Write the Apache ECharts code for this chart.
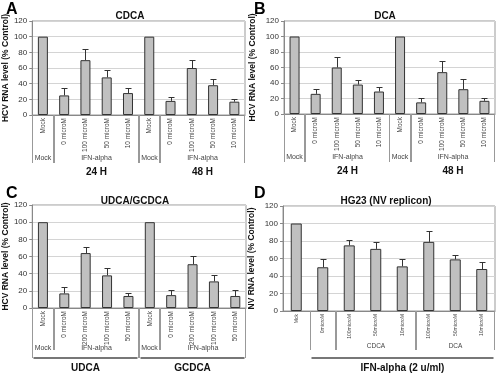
<!DOCTYPE html>
<html>
<head>
<meta charset="utf-8">
<script src="https://cdn.jsdelivr.net/npm/echarts@6/dist/echarts.min.js"></script>
<style>
html, body { margin: 0; padding: 0; background: #fff; }
#main { width: 498px; height: 376px; }
</style>
</head>
<body>
<div id="main"></div>
<script>
// categories
var catsAB = ['Mock', '0 microM', '100 microM', '50 microM', '10 microM', 'Mock', '0 microM', '100 microM', '50 microM', '10 microM'];
var catsC = ['Mock', '0 microM', '200 microM', '100 microM', '50 microM', 'Mock', '0 microM', '200 microM', '100 microM', '50 microM'];
var catsD = ['Mck', '0microM', '100microM', '50microM', '10microM', '100microM', '50microM', '10microM'];

// values (% control) and upper error
var valA = [100, 25, 70, 48, 28, 100, 18, 60, 38, 17];
var errA = [0, 9, 14, 10, 7, 0, 5, 10, 8, 4];
var valB = [100, 26, 60, 38, 29, 100, 15, 54, 32, 17];
var errB = [0, 6, 14, 6, 6, 0, 6, 14, 13, 4];
var valC = [100, 17, 64, 38, 14, 100, 15, 51, 31, 14];
var errC = [0, 8, 7, 9, 3, 0, 6, 10, 7, 7];
var valD = [100, 50, 75, 71, 51, 79, 59, 48];
var errD = [0, 9, 6, 8, 9, 13, 5, 8];

// group rows under the axes: [first cat, last cat, label]
var treatAB = [[0, 0, 'Mock'], [1, 4, 'IFN-alpha'], [5, 5, 'Mock'], [6, 9, 'IFN-alpha']];
var timeAB = [[1, 4, '24 H'], [6, 9, '48 H']];
var acidC = [[0, 4, 'UDCA'], [5, 9, 'GCDCA']];
var acidD = [[1, 1, ''], [2, 4, 'CDCA'], [5, 7, 'DCA']];
var ifnD = [[1, 7, 'IFN-alpha (2 u/ml)']];

var FONT = 'Liberation Sans, Arial, sans-serif';

function spanRender(spans, o) {
  return function (params, api) {
    var sp = spans[params.dataIndex];
    var bw = api.size([1, 0])[0];
    var a = api.coord([sp[0], 0]), b = api.coord([sp[1], 0]);
    var x0 = Math.round(a[0] - bw / 2) + 0.5, x1 = Math.round(b[0] + bw / 2) - 0.5, y0 = a[1];
    var kids = [];
    if (o.line) {
      kids.push({ type: 'line', shape: { x1: x0, y1: y0, x2: x0, y2: y0 + o.line }, style: { stroke: '#999', lineWidth: 1 } });
      kids.push({ type: 'line', shape: { x1: x1, y1: y0, x2: x1, y2: y0 + o.line }, style: { stroke: '#999', lineWidth: 1 } });
    }
    if (o.bar) {
      kids.push({ type: 'line', shape: { x1: x0 + 1, y1: y0 + o.bar, x2: x1 - 1, y2: y0 + o.bar }, style: { stroke: '#777', lineWidth: 2 } });
    }
    if (sp[2]) {
      kids.push({ type: 'text', style: { text: sp[2], x: (x0 + x1) / 2, y: y0 + o.dy, align: 'center', verticalAlign: 'middle',
        font: (o.bold ? 'bold ' : '') + o.size + 'px ' + FONT, fill: o.bold ? '#111' : '#444' } });
    }
    return { type: 'group', children: kids };
  };
}

function errRender(params, api) {
  var e = api.value(2);
  if (!e) return null;
  var base = api.coord([api.value(0), api.value(1)]);
  var top = api.coord([api.value(0), api.value(1) + e]);
  var x = Math.round(base[0]) + 0.5, yt = Math.round(top[1]) + 0.5;
  return { type: 'group', children: [
    { type: 'line', shape: { x1: x, y1: base[1], x2: x, y2: yt }, style: { stroke: '#333', lineWidth: 1 } },
    { type: 'line', shape: { x1: x - 3, y1: yt, x2: x + 3, y2: yt }, style: { stroke: '#333', lineWidth: 1 } }
  ] };
}

var panels = [
  { grid: { left: 29, top: 21, width: 216, height: 94 }, cats: catsAB, vals: valA, errs: errA, name: 'HCV RNA level (% Control)', gap: 22,
    tick: 38, lab: 6.5, barW: 10,
    rows: [[treatAB, { line: 48, dy: 43, size: 7 }], [timeAB, { dy: 57, size: 10, bold: true }]] },
  { grid: { left: 284, top: 21, width: 211, height: 93 }, cats: catsAB, vals: valB, errs: errB, name: 'HCV RNA level (% Control)', gap: 27,
    tick: 38, lab: 6.5, barW: 10,
    rows: [[treatAB, { line: 48, dy: 43, size: 7 }], [timeAB, { dy: 57, size: 10, bold: true }]] },
  { grid: { left: 29, top: 205, width: 217, height: 103 }, cats: catsC, vals: valC, errs: errC, name: 'HCV RNA level (% Control)', gap: 22,
    tick: 34, lab: 6.5, barW: 10,
    rows: [[treatAB, { line: 42, dy: 40, size: 7 }], [acidC, { line: 50, bar: 50, dy: 60, size: 10, bold: true }]] },
  { grid: { left: 283, top: 206, width: 212, height: 105 }, cats: catsD, vals: valD, errs: errD, name: 'NV RNA level (% Control)', gap: 27,
    tick: 29, lab: 5, barW: 11,
    rows: [[acidD, { line: 39, dy: 35, size: 6.5 }], [ifnD, { bar: 47, dy: 57, size: 10, bold: true }]] }
];

var option = {
  animation: false,
  backgroundColor: '#fff',
  textStyle: { fontFamily: FONT },
  title: [
    { text: 'A', left: 1, top: -3, textStyle: { fontSize: 16, fontWeight: 'bold', color: '#000' } },
    { text: 'CDCA', left: 125, top: 6, textAlign: 'center', textStyle: { fontSize: 10, fontWeight: 'bold', color: '#111' } },
    { text: 'B', left: 249, top: -3, textStyle: { fontSize: 16, fontWeight: 'bold', color: '#000' } },
    { text: 'DCA', left: 380, top: 6, textAlign: 'center', textStyle: { fontSize: 10, fontWeight: 'bold', color: '#111' } },
    { text: 'C', left: 1, top: 181, textStyle: { fontSize: 16, fontWeight: 'bold', color: '#000' } },
    { text: 'UDCA/GCDCA', left: 130, top: 191, textAlign: 'center', textStyle: { fontSize: 10, fontWeight: 'bold', color: '#111' } },
    { text: 'D', left: 249, top: 181, textStyle: { fontSize: 16, fontWeight: 'bold', color: '#000' } },
    { text: 'HG23 (NV replicon)', left: 381, top: 191, textAlign: 'center', textStyle: { fontSize: 10, fontWeight: 'bold', color: '#111' } }
  ],
  grid: [], xAxis: [], yAxis: [], series: []
};

panels.forEach(function (p, k) {
  option.grid.push(Object.assign({ show: true, borderColor: '#999', borderWidth: 1, containLabel: false }, p.grid));
  option.xAxis.push({
    type: 'category', gridIndex: k, data: p.cats, boundaryGap: true,
    axisLine: { lineStyle: { color: '#888' } },
    axisTick: { length: p.tick, lineStyle: { color: '#aaa' } },
    axisLabel: { rotate: 90, margin: 3, fontSize: p.lab, color: '#444', interval: 0 }
  });
  option.yAxis.push({
    type: 'value', gridIndex: k, min: 0, max: 120, interval: 20,
    name: p.name, nameLocation: 'middle', nameGap: p.gap,
    nameTextStyle: { fontSize: 8.5, fontWeight: 'bold', color: '#111' },
    axisLine: { show: true, lineStyle: { color: '#888' } },
    axisTick: { show: true, length: 3, lineStyle: { color: '#888' } },
    axisLabel: { fontSize: 8, margin: 5, color: '#333' },
    splitLine: { lineStyle: { color: '#d4d4d4' } }
  });
  option.series.push({
    type: 'bar', xAxisIndex: k, yAxisIndex: k, data: p.vals, barWidth: p.barW,
    itemStyle: { color: '#c0c0c0', borderColor: '#333', borderWidth: 1 }
  });
  option.series.push({
    type: 'custom', xAxisIndex: k, yAxisIndex: k, renderItem: errRender, z: 5,
    data: p.vals.map(function (v, i) { return [i, v, p.errs[i]]; })
  });
  p.rows.forEach(function (r) {
    option.series.push({
      type: 'custom', xAxisIndex: k, yAxisIndex: k, clip: false, silent: true,
      renderItem: spanRender(r[0], r[1]),
      data: r[0].map(function (s) { return [s[0], 0]; })
    });
  });
});

var chart = echarts.init(document.getElementById('main'));
chart.setOption(option);
window.addEventListener('resize', function () { chart.resize(); });
</script>
</body>
</html>
